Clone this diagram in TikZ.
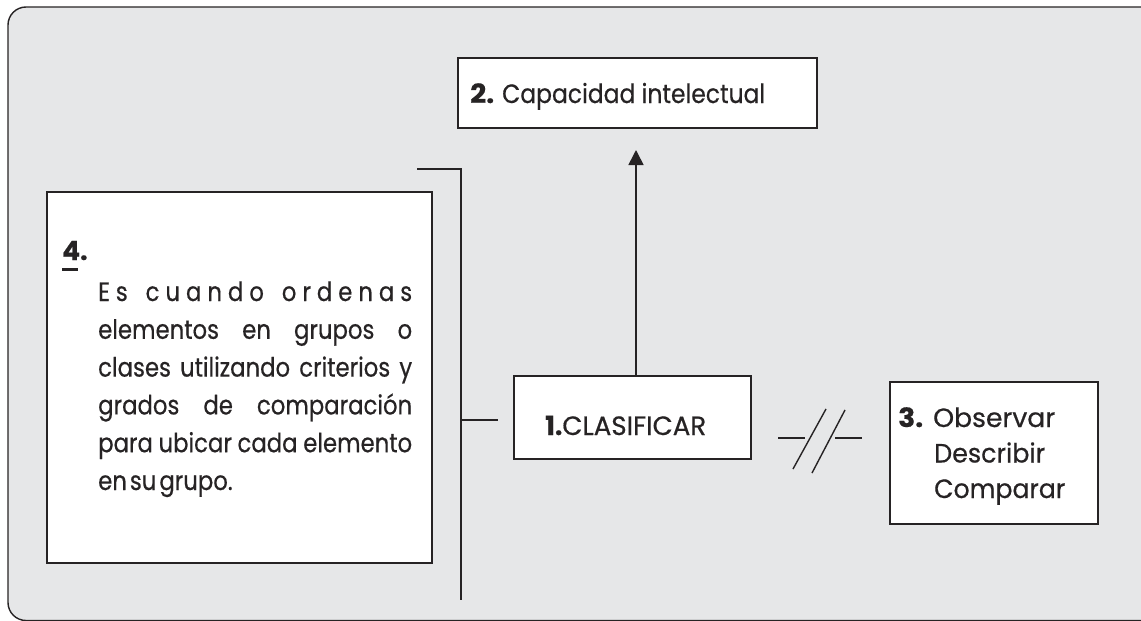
\documentclass[tikz,border=0pt]{standalone}
\usepackage{fontspec}
\setmainfont{Poppins}[FakeBold=0.5]
\newfontfamily\bodyfont{Poppins}[FakeStretch=0.86,FakeBold=0.5]
\usetikzlibrary{arrows.meta}
\definecolor{bg}{HTML}{E6E7E8}
\definecolor{ink}{HTML}{262324}
\newcommand{\fitw}[2]{\resizebox{#1}{\height}{#2}}
\begin{document}
\begin{tikzpicture}[x=1pt,y=-1pt,
  box/.style={draw=ink,line width=1.6pt,fill=white,inner sep=0pt,outer sep=0pt,anchor=north west},
  lbl/.style={anchor=base west,inner sep=0pt,text=ink,font=\fontsize{26.5}{30}\selectfont},
  body/.style={anchor=base west,inner sep=0pt,text=ink,font=\fontsize{26.5}{30}\bodyfont},
  conn/.style={draw=ink,line width=1.6pt},
  brk/.style={draw=ink,line width=1.4pt}]
\useasboundingbox (0,0) rectangle (1141,621);
\clip (0,0) rectangle (1141,621);
% frame
\draw[fill=bg,draw=ink,line width=1.4pt,rounded corners=18pt] (8,7) rectangle (1180,620.5);
% boxes
\node[box,minimum width=359pt,minimum height=70pt] (b2) at (458,58) {};
\node[box,minimum width=385pt,minimum height=371pt] (b4) at (47,192) {};
\node[box,minimum width=237pt,minimum height=83pt] (b1) at (514,376) {};
\node[box,minimum width=208pt,minimum height=142pt] (b3) at (890,382) {};
% texts
\node[lbl] (t2n) at (470,103) {\fitw{24pt}{\textbf{2.}}};
\node[lbl] (t2) at (502,103) {\fitw{263pt}{Capacidad intelectual}};
\node[lbl] (t1) at (545,435) {\fitw{161pt}{\textbf{1.}CLASIFICAR}};
\node[lbl] (t3n) at (898,427) {\fitw{25pt}{\textbf{3.}}};
\node[lbl] (t3a) at (933,427) {\fitw{122pt}{Observar}};
\node[lbl] (t3b) at (934,462.5) {\fitw{111pt}{Describir}};
\node[lbl] (t3c) at (934,498) {\fitw{131pt}{Comparar}};
\node[lbl] (t4n) at (62,260) {\textbf{\rlap{\rule[-11pt]{16pt}{3pt}}4.}};
\node[body] (l1) at (98,301) {\makebox[314pt][s]{E\hspace{0pt plus 1fil}s\hspace{0pt plus 3fil}c\hspace{0pt plus 1fil}u\hspace{0pt plus 1fil}a\hspace{0pt plus 1fil}n\hspace{0pt plus 1fil}d\hspace{0pt plus 1fil}o\hspace{0pt plus 3fil}o\hspace{0pt plus 1fil}r\hspace{0pt plus 1fil}d\hspace{0pt plus 1fil}e\hspace{0pt plus 1fil}n\hspace{0pt plus 1fil}a\hspace{0pt plus 1fil}s}};
\node[body] (l2) at (98,338.8) {\makebox[314pt][s]{elementos en grupos o}};
\node[body] (l3) at (98,376.6) {\makebox[314pt][s]{clases utilizando criterios y}};
\node[body] (l4) at (98,414.4) {\makebox[314pt][s]{grados de comparación}};
\node[body] (l5) at (98,452.2) {\makebox[314pt][s]{para ubicar cada elemento}};
\node[body] (l6) at (98,490) {en\hspace{3pt}su\hspace{3pt}grupo.};
% connectors
\coordinate (tip) at (636,150);
\draw[conn,-{Triangle[length=15pt,width=15pt]}] (b1.north -| tip) -- (tip);
\coordinate (brtop) at (417,169);
\coordinate (brcorner) at (461,169);
\coordinate (brbot) at (461,600);
\draw[conn] (brtop) -- (brcorner) -- (brbot);
\coordinate (brmid) at (461,420);
\draw[conn] (brmid) -- (498,420);
% break symbol
\coordinate (h1a) at (778,438); \coordinate (h1b) at (805,438);
\coordinate (h2a) at (835,438); \coordinate (h2b) at (862,438);
\draw[brk] (h1a) -- (h1b);
\draw[brk] (h2a) -- (h2b);
\draw[brk] (793,469) -- (826,409);
\draw[brk] (812,473) -- (845,410);
\end{tikzpicture}
\end{document}
